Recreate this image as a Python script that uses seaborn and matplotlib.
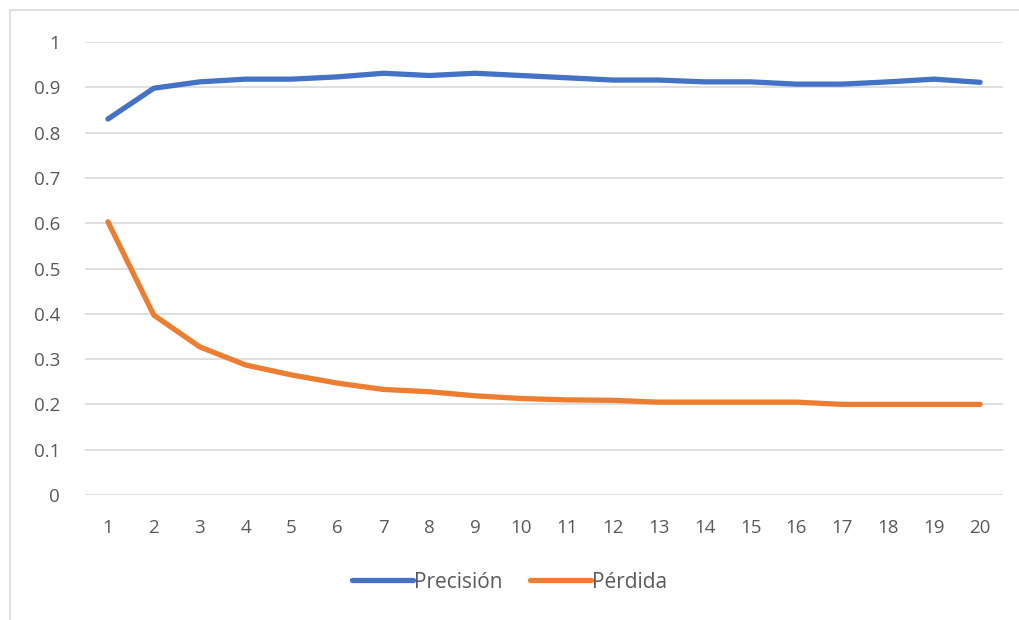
import matplotlib
matplotlib.use("Agg")
import matplotlib.pyplot as plt
import seaborn as sns
import pandas as pd
from matplotlib.patches import Rectangle

# Epochs and training metrics
epochs = list(range(1, 21))
precision = [0.83, 0.898, 0.912, 0.918, 0.918, 0.923, 0.931, 0.926, 0.931, 0.926,
             0.921, 0.916, 0.916, 0.912, 0.912, 0.907, 0.907, 0.912, 0.918, 0.911]
loss = [0.603, 0.397, 0.327, 0.287, 0.265, 0.247, 0.233, 0.228, 0.219, 0.213,
        0.21, 0.209, 0.205, 0.205, 0.205, 0.205, 0.2, 0.2, 0.2, 0.2]
series_names = ["Precisión", "Pérdida"]
y_ticks = [0, 0.1, 0.2, 0.3, 0.4, 0.5, 0.6, 0.7, 0.8, 0.9, 1]
y_tick_labels = ["0", "0.1", "0.2", "0.3", "0.4", "0.5", "0.6", "0.7", "0.8", "0.9", "1"]

df = pd.DataFrame({
    "epoch": epochs * 2,
    "value": precision + loss,
    "serie": [series_names[0]] * len(epochs) + [series_names[1]] * len(epochs),
})

sns.set_theme(style="white")
plt.rcParams["font.family"] = ["Open Sans", "DejaVu Sans"]

text_color = "#595959"
grid_color = "#D9D9D9"
palette = {series_names[0]: "#4472C4", series_names[1]: "#ED7D31"}
fs = 13.5
legend_fs = 15

fig = plt.figure(figsize=(10.19, 6.2), dpi=100)
ax = fig.add_axes([85 / 1019, 1 - 495 / 620, (1003 - 85) / 1019, (495 - 42) / 620])

sns.lineplot(data=df, x="epoch", y="value", hue="serie", palette=palette,
             linewidth=3.8, ax=ax, legend=False, solid_capstyle="round")

ax.set_xlim(0.5, 20.5)
ax.set_ylim(0, 1)
ax.set_yticks(y_ticks)
ax.set_yticklabels(y_tick_labels)
ax.set_xticks(epochs)
ax.set_xticklabels([str(e) for e in epochs])
ax.grid(axis="y", color=grid_color, linewidth=1.2)
ax.set_axisbelow(True)
for s in ax.spines.values():
    s.set_visible(False)
ax.tick_params(axis="both", length=0, labelsize=fs, colors=text_color)
ax.tick_params(axis="y", pad=18)
ax.tick_params(axis="x", pad=17)
ax.set_xlabel("")
ax.set_ylabel("")

# Legend below the plot
handles = [plt.Line2D([], [], color=palette[n], linewidth=3.8, solid_capstyle="round")
           for n in series_names]
fig.legend(handles, series_names, loc="center", bbox_to_anchor=(0.5, 1 - 582 / 620),
           ncol=2, frameon=False, handlelength=2.9, handletextpad=0.05,
           columnspacing=1.35, fontsize=legend_fs, labelcolor=text_color)

# Chart frame
fig.patches.append(Rectangle((9.5 / 1019, -0.1), 1.2, 1 - 10 / 620 + 0.1,
                             transform=fig.transFigure, fill=False,
                             edgecolor=grid_color, linewidth=1.2))

fig.savefig("out.png", dpi=100, facecolor="white")
